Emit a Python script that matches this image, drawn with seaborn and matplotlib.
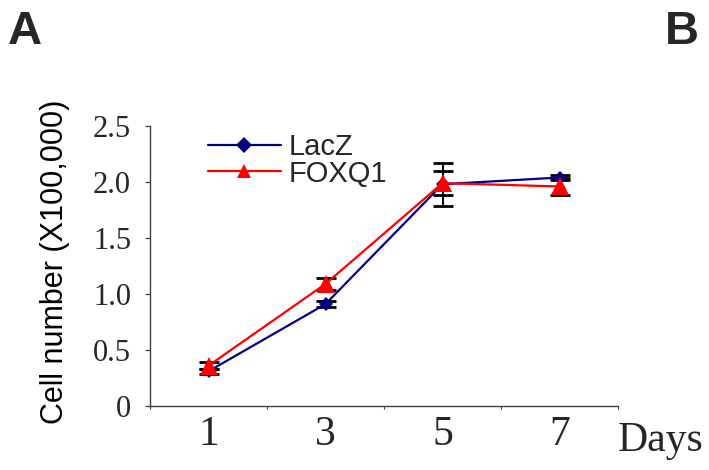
import matplotlib
matplotlib.use("Agg")
import matplotlib.pyplot as plt
import seaborn as sns
import pandas as pd
import numpy as np

# ---- data ----
days = ["1", "3", "5", "7"]
lacz = [0.31, 0.91, 1.98, 2.04]
lacz_err = [0.02, 0.03, 0.19, 0.02]
foxq1 = [0.36, 1.09, 1.99, 1.96]
foxq1_err = [0.03, 0.05, 0.11, 0.08]
yticks = [0, 0.5, 1.0, 1.5, 2.0, 2.5]
ytick_labels = ["0", "0.5", "1.0", "1.5", "2.0", "2.5"]

sns.set_theme(style="white")
plt.rcParams["font.family"] = ["Liberation Sans", "DejaVu Sans"]

fig = plt.figure(figsize=(7.09, 4.70), dpi=100)
ax = fig.add_axes([150/709, 1-406/470, 468/709, 280/470])

pos = np.arange(len(days))
df_l = pd.DataFrame({"pos": pos, "val": lacz})
df_f = pd.DataFrame({"pos": pos, "val": foxq1})

# error bars (behind markers)
ax.errorbar(pos, lacz, yerr=lacz_err, fmt="none", ecolor="black",
            elinewidth=1.4, capsize=7.5, capthick=2, zorder=1)
ax.errorbar(pos, foxq1, yerr=foxq1_err, fmt="none", ecolor="black",
            elinewidth=1.4, capsize=7.5, capthick=2, zorder=1)

sns.lineplot(data=df_l, x="pos", y="val", ax=ax, color="#000080",
             marker="D", markersize=7.5, markeredgewidth=0, linewidth=1.6,
             label="LacZ", zorder=3)
sns.lineplot(data=df_f, x="pos", y="val", ax=ax, color="#FF0000",
             marker="^", markersize=13, markeredgewidth=0, linewidth=1.6,
             label="FOXQ1", zorder=4)

ax.set_xlim(-0.5, 3.5)
ax.set_ylim(0, 2.5)

# spines
for s in ["top", "right"]:
    ax.spines[s].set_visible(False)
for s in ["left", "bottom"]:
    ax.spines[s].set_color("#404040")
    ax.spines[s].set_linewidth(1.0)

# y ticks
ax.set_yticks(yticks)
ax.set_yticklabels(ytick_labels, family="Liberation Serif", fontsize=22)
ax.tick_params(axis="y", which="major", direction="out", length=3.6,
               width=0.9, color="#404040", pad=10, left=True)

# x ticks: boundaries as major ticks, labels on minor ticks
ax.set_xticks(np.arange(-0.5, len(days), 1.0))
ax.set_xticklabels([])
ax.set_xticks(pos, minor=True)
ax.set_xticklabels(days, minor=True, family="Liberation Serif", fontsize=30)
ax.tick_params(axis="x", which="major", direction="out", length=2.5,
               width=0.8, color="#404040", bottom=True)
ax.tick_params(axis="x", which="minor", length=0, pad=7, bottom=True)

# axis labels
ax.set_xlabel("Days", family="Liberation Serif", fontsize=30)
ax.xaxis.label.set_va("center")
ax.xaxis.label.set_ha("center")
ax.xaxis.set_label_coords((661-150)/468, (406-441)/280)

ax.set_ylabel("Cell number (X100,000)", fontsize=22, color="black")
ax.yaxis.label.set_va("center")
ax.yaxis.set_label_coords((55-150)/468, (406-262)/280)

# legend
leg = ax.legend(loc="upper left", bbox_to_anchor=((208-150)/468, (406-133)/280),
                frameon=False, fontsize=21, handlelength=2.5,
                handletextpad=0.25, labelspacing=-0.05, borderpad=0,
                borderaxespad=0)
hs = leg.legend_handles
hs[0].set_markersize(8)
hs[1].set_markersize(10)

fig.text(8/709, 1-44/470, "A", fontsize=34, fontweight="bold",
         va="baseline", ha="left")
fig.text(665/709, 1-44/470, "B", fontsize=34, fontweight="bold",
         va="baseline", ha="left")

fig.savefig("out.png", dpi=100)
